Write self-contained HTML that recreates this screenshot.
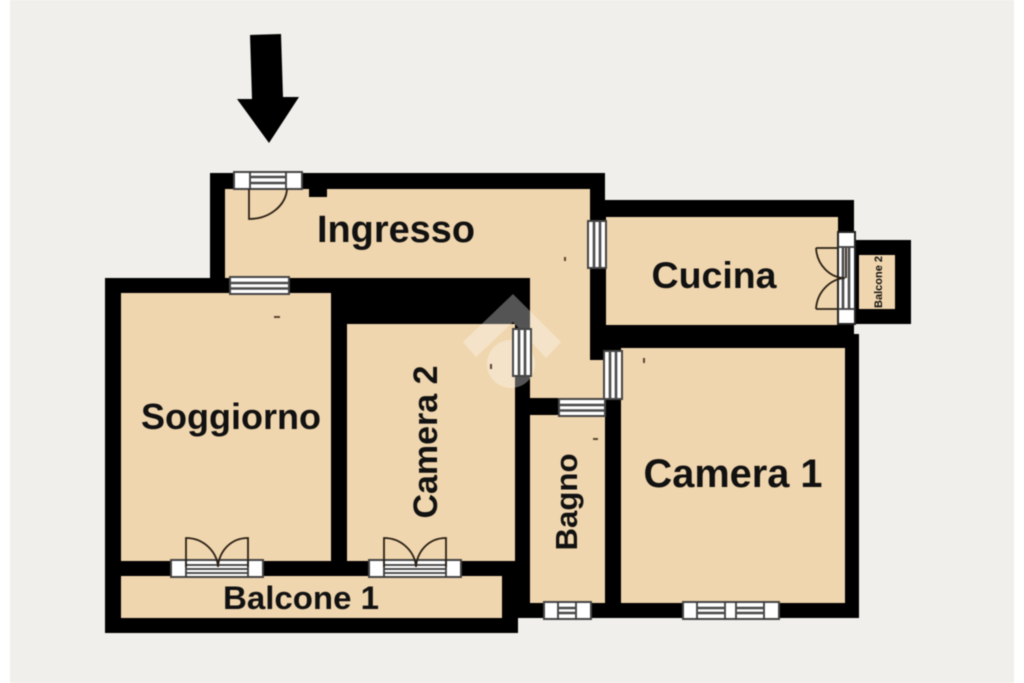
<!DOCTYPE html>
<html><head><meta charset="utf-8"><style>
html,body{margin:0;padding:0;background:#fff;width:1024px;height:683px;overflow:hidden}
svg{display:block;filter:blur(0.45px)}
text{font-family:"Liberation Sans",sans-serif;font-weight:bold;fill:#111}
.w{fill:#fff;stroke:#444;stroke-width:2}
.l{stroke:#4a4a4a;stroke-width:2.6;fill:none}
.m{stroke:#3a3a3a;stroke-width:1.8;fill:none}
.d{stroke:#2a2015;stroke-width:1.8;fill:none}
</style></head><body>
<svg width="1024" height="683" viewBox="0 0 1024 683" xmlns="http://www.w3.org/2000/svg">
<rect x="10" y="0" width="1004" height="683" fill="#f0efeb"/>
<!-- arrow -->
<polygon points="250,35 281,34 283,97 299,97 269,143 237,99 252,99" fill="#000"/>
<!-- walls -->
<polygon points="210,173 605,173 605,200 854,200 854,240 911,240 911,324 854,324 854,334 859,334 859,618 518,618 518,633 105,633 105,278 210,278" fill="#000"/>
<!-- rooms -->
<g fill="#f0d6ae">
<polygon points="225,189 309,189 309,197 327,197 327,189 590,189 590,360 604,360 604,398 530,398 530,278 225,278"/>
<rect x="606" y="217" width="232" height="108"/>
<rect x="859" y="255" width="36" height="54"/>
<rect x="621" y="348" width="224" height="255"/>
<rect x="530" y="415" width="75" height="188"/>
<rect x="347" y="324" width="168" height="237"/>
<rect x="121" y="293" width="210" height="268"/>
<rect x="121" y="576" width="381" height="42"/>
</g>
<!-- watermark -->
<g fill="#fff" opacity="0.33">
<polygon points="513,294 561,342 546,358 513,322 476,357 463,342"/>
<circle cx="511" cy="364" r="24"/>
</g>
<!-- entrance window + door -->
<rect class="w" x="234" y="172" width="68" height="17"/>
<path class="m" d="M250,172V189M286,172V189"/>
<path class="l" d="M250,177H286M250,183H286"/>
<path class="d" d="M249,189V219A38,32 0 0 0 287,189"/>
<!-- Soggiorno top window -->
<rect class="w" x="230" y="277" width="59" height="17"/>
<path class="l" d="M230,283H289M230,288.5H289"/>
<!-- Ingresso-Cucina -->
<rect class="w" x="588" y="221" width="18" height="47"/>
<path class="l" d="M594,221V268M600,221V268"/>
<!-- Camera 2 -->
<rect class="w" x="513" y="329" width="18" height="47"/>
<path class="l" d="M519,329V376M525,329V376"/>
<!-- Camera 1 -->
<rect class="w" x="604" y="351" width="18" height="48"/>
<path class="l" d="M610,351V399M616,351V399"/>
<!-- Bagno -->
<rect class="w" x="559" y="399" width="46" height="17"/>
<path class="l" d="M559,405H605M559,410.5H605"/>
<!-- Soggiorno balcony -->
<rect class="w" x="171" y="560" width="92" height="17"/>
<path class="m" d="M186,560V577M248,560V577M186,565H248M186,569H248M186,573H248"/>
<path class="d" d="M186,567V538C204,538 217,552 218,567M248,567V538C230,538 219,552 218,567"/>
<!-- Camera 2 balcony -->
<rect class="w" x="369" y="560" width="92" height="17"/>
<path class="m" d="M384,560V577M446,560V577M384,565H446M384,569H446M384,573H446"/>
<path class="d" d="M384,567V538C402,538 415,552 416,567M446,567V538C428,538 417,552 416,567"/>
<!-- Bagno bottom -->
<rect class="w" x="544" y="602" width="47" height="17"/>
<path class="m" d="M558,602V619M576,602V619"/>
<path class="l" d="M558,608H576M558,613H576"/>
<!-- Camera 1 bottom -->
<rect class="w" x="683" y="602" width="96" height="17"/>
<path class="m" d="M697,602V619M725,602V619M736,602V619M764,602V619"/>
<path class="l" d="M697,608H725M697,613H725M736,608H764M736,613H764"/>
<!-- Cucina balcony door -->
<rect x="838" y="232" width="17" height="92" fill="#fff" stroke="#222" stroke-width="2"/>
<path class="m" d="M838,247H855M838,309H855"/>
<path class="l" d="M843,247V309M849,247V309"/>
<path class="d" d="M816,248H838M816,309H838M816,248C817,265 830,278 845,278M816,309C817,292 830,279 845,278M846,248V278"/>
<!-- labels -->
<text x="396" y="242" font-size="38" text-anchor="middle" textLength="158" lengthAdjust="spacingAndGlyphs">Ingresso</text>
<text x="714" y="288" font-size="37.5" text-anchor="middle" textLength="125" lengthAdjust="spacingAndGlyphs">Cucina</text>
<text x="231" y="429" font-size="36" text-anchor="middle" textLength="180" lengthAdjust="spacingAndGlyphs">Soggiorno</text>
<text x="733" y="487" font-size="40" text-anchor="middle" textLength="179" lengthAdjust="spacingAndGlyphs">Camera 1</text>
<text x="301" y="609" font-size="32" text-anchor="middle" textLength="156" lengthAdjust="spacingAndGlyphs">Balcone 1</text>
<text transform="translate(437,442) rotate(-90)" font-size="34" text-anchor="middle" textLength="153" lengthAdjust="spacingAndGlyphs">Camera 2</text>
<text transform="translate(577,502) rotate(-90)" font-size="31" text-anchor="middle" textLength="97" lengthAdjust="spacingAndGlyphs">Bagno</text>
<text transform="translate(882,282) rotate(-90)" font-size="11" text-anchor="middle" textLength="52" lengthAdjust="spacingAndGlyphs">Balcone 2</text>
<!-- tiny marks -->
<g fill="#5a4630">
<rect x="274" y="316" width="6" height="2"/>
<rect x="564" y="257" width="2" height="4"/>
<rect x="490" y="364" width="2" height="5"/>
<rect x="643" y="358" width="2" height="5"/>
<rect x="593" y="438" width="5" height="2"/>
</g>
</svg>
</body></html>
